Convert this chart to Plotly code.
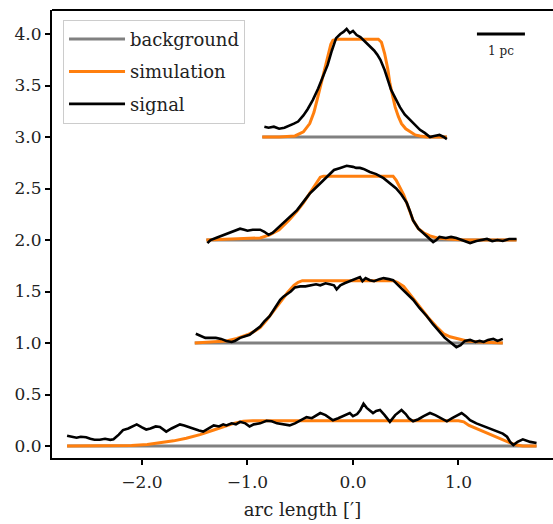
import plotly.graph_objects as go

# ---- data ----
offsets = [3.0, 2.0, 1.0, 0.0]

# background extents per profile
bg_x = [[-0.86, 0.89], [-1.39, 1.55], [-1.50, 1.42], [-2.71, 1.74]]

# profile 1 (offset 3)
sig1_x = [-0.84, -0.80, -0.75, -0.70, -0.65, -0.60, -0.56, -0.52, -0.47, -0.43, -0.38, -0.33, -0.28, -0.24,
          -0.20, -0.16, -0.12, -0.09, -0.06, -0.03, 0.00, 0.035, 0.07, 0.10, 0.13, 0.16, 0.20, 0.23, 0.26,
          0.30, 0.33, 0.36, 0.40, 0.445, 0.49, 0.54, 0.59, 0.635, 0.68, 0.73, 0.77, 0.82, 0.86, 0.89]
sig1_y = [3.10, 3.09, 3.10, 3.08, 3.09, 3.11, 3.13, 3.15, 3.21, 3.27, 3.36, 3.47, 3.59, 3.70,
          3.84, 3.96, 4.00, 4.02, 4.05, 4.01, 4.03, 3.99, 3.97, 3.94, 3.92, 3.89, 3.84, 3.80, 3.75,
          3.65, 3.56, 3.46, 3.38, 3.29, 3.22, 3.17, 3.11, 3.07, 3.04, 3.00, 3.01, 3.02, 3.00, 2.98]
sim1_x = [-0.86, -0.70, -0.55, -0.47, -0.41, -0.37, -0.34, -0.31, -0.28, -0.25, -0.23, -0.21, -0.19, -0.15,
          0.0, 0.15, 0.24, 0.27, 0.30, 0.33, 0.35, 0.38, 0.40, 0.43, 0.46, 0.50, 0.54, 0.59, 0.635, 0.70, 0.89]
sim1_y = [3.00, 3.00, 3.01, 3.05, 3.13, 3.24, 3.36, 3.49, 3.62, 3.74, 3.81, 3.90, 3.94, 3.95,
          3.95, 3.95, 3.95, 3.92, 3.81, 3.66, 3.52, 3.38, 3.29, 3.20, 3.13, 3.08, 3.05, 3.02, 3.01, 3.00, 3.00]

# profile 2 (offset 2)
sig2_x = [-1.38, -1.35, -1.30, -1.25, -1.20, -1.15, -1.10, -1.07, -1.03, -1.00, -0.95, -0.91, -0.88, -0.84,
          -0.80, -0.76, -0.72, -0.66, -0.60, -0.53, -0.47, -0.41, -0.36, -0.31, -0.26, -0.22, -0.18, -0.12,
          -0.06, 0.00, 0.03, 0.066, 0.10, 0.16, 0.22, 0.29, 0.35, 0.41, 0.46, 0.51, 0.54, 0.57, 0.62, 0.67,
          0.72, 0.76, 0.79, 0.82, 0.88, 0.93, 0.98, 1.04, 1.11, 1.17, 1.22, 1.27, 1.32, 1.37, 1.42, 1.48, 1.55]
sig2_y = [1.97, 2.00, 2.02, 2.04, 2.06, 2.08, 2.10, 2.11, 2.10, 2.09, 2.10, 2.10, 2.10, 2.08,
          2.05, 2.07, 2.11, 2.16, 2.22, 2.29, 2.37, 2.45, 2.50, 2.55, 2.60, 2.65, 2.68, 2.70,
          2.72, 2.71, 2.70, 2.70, 2.69, 2.66, 2.64, 2.60, 2.55, 2.50, 2.44, 2.36, 2.28, 2.19, 2.11, 2.06,
          2.02, 1.98, 2.00, 2.03, 2.02, 2.03, 2.02, 2.00, 1.97, 1.99, 2.00, 2.01, 1.99, 2.00, 1.99, 2.01, 2.01]
sim2_x = [-1.39, -1.20, -1.00, -0.88, -0.79, -0.70, -0.60, -0.53, -0.47, -0.42, -0.37, -0.34, -0.31, -0.28,
          0.38, 0.41, 0.44, 0.48, 0.52, 0.57, 0.62, 0.67, 0.73, 0.80, 0.90, 1.05, 1.55]
sim2_y = [2.00, 2.005, 2.01, 2.02, 2.05, 2.10, 2.20, 2.28, 2.36, 2.44, 2.52, 2.57, 2.61, 2.62,
          2.62, 2.58, 2.52, 2.44, 2.33, 2.19, 2.11, 2.07, 2.04, 2.02, 2.01, 2.00, 2.00]

# profile 3 (offset 1)
sig3_x = [-1.49, -1.45, -1.40, -1.35, -1.30, -1.25, -1.20, -1.15, -1.12, -1.07, -1.02, -0.98, -0.93, -0.88,
          -0.84, -0.79, -0.74, -0.69, -0.66, -0.63, -0.59, -0.55, -0.50, -0.45, -0.40, -0.35, -0.31, -0.26,
          -0.22, -0.18, -0.155, -0.12, -0.08, -0.03, 0.02, 0.066, 0.09, 0.12, 0.16, 0.20, 0.25, 0.29, 0.34,
          0.38, 0.43, 0.48, 0.53, 0.57, 0.63, 0.70, 0.76, 0.82, 0.87, 0.92, 0.96, 0.98, 1.02, 1.06, 1.11,
          1.16, 1.20, 1.24, 1.28, 1.33, 1.37, 1.42]
sig3_y = [1.09, 1.07, 1.05, 1.05, 1.05, 1.04, 1.02, 1.01, 1.02, 1.05, 1.07, 1.08, 1.12, 1.16,
          1.21, 1.26, 1.34, 1.42, 1.45, 1.47, 1.50, 1.54, 1.55, 1.55, 1.56, 1.57, 1.56, 1.58,
          1.57, 1.56, 1.52, 1.56, 1.58, 1.60, 1.62, 1.64, 1.60, 1.63, 1.61, 1.60, 1.62, 1.63, 1.62,
          1.61, 1.56, 1.51, 1.47, 1.42, 1.34, 1.26, 1.18, 1.11, 1.05, 1.01, 0.97, 0.96, 0.98, 1.02, 1.03,
          1.01, 1.02, 1.01, 1.03, 1.04, 1.02, 1.04]
sim3_x = [-1.50, -1.30, -1.20, -1.10, -1.00, -0.94, -0.88, -0.82, -0.76, -0.69, -0.62, -0.56, -0.52, -0.48,
          0.38, 0.42, 0.48, 0.55, 0.635, 0.71, 0.79, 0.86, 0.92, 0.98, 1.08, 1.20, 1.42]
sim3_y = [1.00, 1.01, 1.02, 1.045, 1.08, 1.11, 1.15, 1.22, 1.30, 1.40, 1.49, 1.56, 1.59, 1.605,
          1.605, 1.59, 1.55, 1.46, 1.35, 1.25, 1.16, 1.09, 1.06, 1.045, 1.02, 1.01, 1.00]

# profile 4 (offset 0)
sig4_x = [-2.71, -2.66, -2.62, -2.58, -2.53, -2.49, -2.45, -2.40, -2.35, -2.30, -2.27, -2.22, -2.18, -2.13,
          -2.09, -2.05, -2.00, -1.96, -1.92, -1.87, -1.83, -1.80, -1.77, -1.72, -1.68, -1.64, -1.60, -1.55,
          -1.51, -1.46, -1.42, -1.37, -1.32, -1.27, -1.23, -1.20, -1.15, -1.11, -1.07, -1.02, -0.98, -0.94,
          -0.88, -0.82, -0.77, -0.72, -0.67, -0.63, -0.60, -0.55, -0.50, -0.44, -0.39, -0.34, -0.31, -0.26,
          -0.22, -0.19, -0.14, -0.10, -0.06, -0.03, 0.00, 0.04, 0.07, 0.10, 0.13, 0.16, 0.19, 0.22, 0.256,
          0.30, 0.35, 0.40, 0.46, 0.50, 0.53, 0.57, 0.62, 0.67, 0.73, 0.78, 0.83, 0.89, 0.94, 0.98, 1.03,
          1.07, 1.11, 1.17, 1.24, 1.30, 1.36, 1.42, 1.46, 1.49, 1.52, 1.56, 1.61, 1.65, 1.68, 1.74]
sig4_y = [0.10, 0.09, 0.08, 0.09, 0.085, 0.07, 0.06, 0.06, 0.07, 0.06, 0.065, 0.11, 0.155, 0.17,
          0.19, 0.21, 0.18, 0.16, 0.17, 0.19, 0.185, 0.16, 0.14, 0.17, 0.19, 0.21, 0.20, 0.18,
          0.17, 0.15, 0.14, 0.17, 0.20, 0.19, 0.21, 0.20, 0.22, 0.21, 0.235, 0.22, 0.19, 0.21,
          0.22, 0.245, 0.24, 0.22, 0.21, 0.20, 0.20, 0.22, 0.25, 0.28, 0.27, 0.30, 0.32, 0.30,
          0.27, 0.25, 0.27, 0.29, 0.31, 0.32, 0.29, 0.31, 0.35, 0.41, 0.37, 0.34, 0.32, 0.34, 0.35,
          0.30, 0.235, 0.30, 0.35, 0.31, 0.27, 0.24, 0.26, 0.29, 0.32, 0.30, 0.27, 0.24, 0.27, 0.29, 0.32,
          0.29, 0.25, 0.22, 0.19, 0.17, 0.14, 0.12, 0.09, 0.04, 0.01, 0.04, 0.065, 0.05, 0.04, 0.03]
sim4_x = [-2.71, -2.30, -2.10, -1.95, -1.83, -1.70, -1.58, -1.45, -1.32, -1.22, -1.13, -1.04, -0.95,
          1.00, 1.05, 1.10, 1.17, 1.25, 1.30, 1.36, 1.42, 1.49, 1.55, 1.61, 1.74]
sim4_y = [0.0, 0.0, 0.005, 0.015, 0.03, 0.05, 0.075, 0.11, 0.155, 0.19, 0.22, 0.24, 0.245,
          0.245, 0.235, 0.20, 0.17, 0.13, 0.11, 0.09, 0.06, 0.03, 0.01, 0.0, 0.0]

signals = [(sig1_x, sig1_y), (sig2_x, sig2_y), (sig3_x, sig3_y), (sig4_x, sig4_y)]
sims = [(sim1_x, sim1_y), (sim2_x, sim2_y), (sim3_x, sim3_y), (sim4_x, sim4_y)]

x_ticks = [-2.0, -1.0, 0.0, 1.0]
x_tick_labels = ["\u22122.0", "\u22121.0", "0.0", "1.0"]
y_ticks = [0.0, 0.5, 1.0, 1.5, 2.0, 2.5, 3.0, 3.5, 4.0]
y_tick_labels = ["0.0", "0.5", "1.0", "1.5", "2.0", "2.5", "3.0", "3.5", "4.0"]

scalebar_x = [1.175, 1.63]
scalebar_y = 4.0
scalebar_label = "1 pc"

GRAY = "#808080"
ORANGE = "#ff7f0e"
BLACK = "#000000"
FONT = "DejaVu Serif"

fig = go.Figure()

for i, (xs, off) in enumerate(zip(bg_x, offsets)):
    fig.add_trace(go.Scatter(x=xs, y=[off, off], mode="lines",
                             line=dict(color=GRAY, width=3),
                             name="background", legendgroup="bg",
                             showlegend=(i == 0)))
for i, (xs, ys) in enumerate(sims):
    fig.add_trace(go.Scatter(x=xs, y=ys, mode="lines",
                             line=dict(color=ORANGE, width=3),
                             name="simulation", legendgroup="sim",
                             showlegend=(i == 0)))
for i, (xs, ys) in enumerate(signals):
    fig.add_trace(go.Scatter(x=xs, y=ys, mode="lines",
                             line=dict(color=BLACK, width=2.6),
                             name="signal", legendgroup="sig",
                             showlegend=(i == 0)))

# scale bar
fig.add_trace(go.Scatter(x=scalebar_x, y=[scalebar_y, scalebar_y], mode="lines",
                         line=dict(color=BLACK, width=3), showlegend=False, hoverinfo="skip"))
fig.add_annotation(x=sum(scalebar_x) / 2, y=scalebar_y, yshift=-17, text=scalebar_label,
                   showarrow=False, font=dict(family=FONT, size=12, color="#222"))

# top spine
fig.add_shape(type="line", xref="paper", yref="paper", x0=0, x1=1, y0=1, y1=1,
              line=dict(color=BLACK, width=2))

fig.update_layout(
    width=553, height=524,
    margin=dict(l=52, r=0, t=10, b=66),
    paper_bgcolor="white", plot_bgcolor="white",
    font=dict(family=FONT, size=17, color="#222"),
    showlegend=True,
    legend=dict(x=0.022, y=0.978, xanchor="left", yanchor="top",
                bgcolor="white", bordercolor="#cccccc", borderwidth=1,
                font=dict(family=FONT, size=18, color="#222"),
                itemwidth=56, tracegroupgap=6),
    xaxis=dict(range=[-2.853, 1.896], tickvals=x_ticks, ticktext=x_tick_labels,
               showgrid=False, zeroline=False, showline=True, linecolor=BLACK, linewidth=2,
               ticks="outside", ticklen=5, tickwidth=1.5, tickcolor=BLACK, ticklabelstandoff=3,
               title=dict(text="arc length [\u2032]", font=dict(family=FONT, size=18, color="#222"),
                          standoff=12)),
    yaxis=dict(range=[-0.1165, 4.233], tickvals=y_ticks, ticktext=y_tick_labels,
               showgrid=False, zeroline=False, showline=True, linecolor=BLACK, linewidth=2,
               ticks="outside", ticklen=5, tickwidth=1.5, tickcolor=BLACK),
)

fig.write_html("out.html")
